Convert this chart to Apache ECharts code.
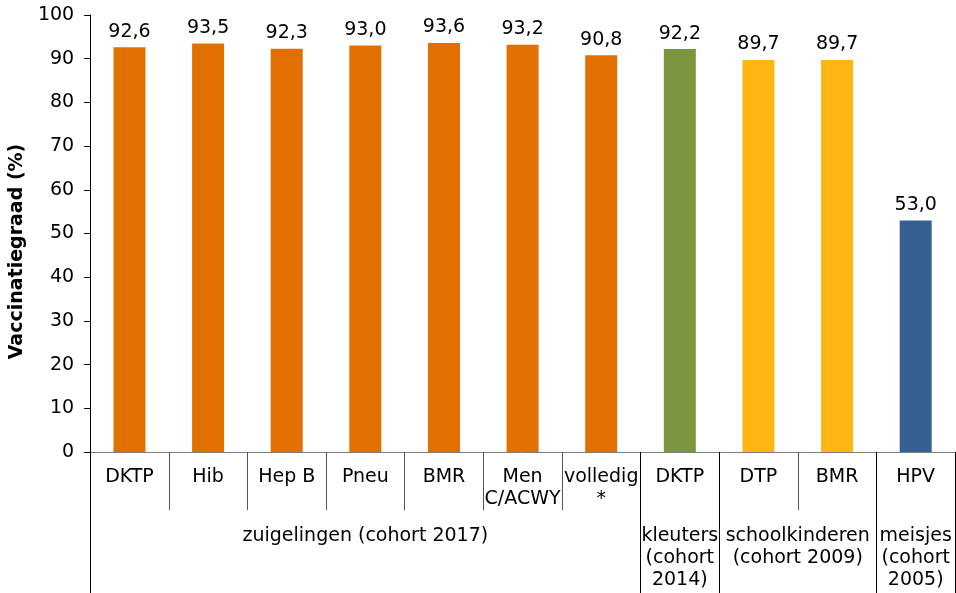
<!DOCTYPE html>
<html>
<head>
<meta charset="utf-8">
<script src="https://cdn.jsdelivr.net/npm/echarts@6/dist/echarts.min.js"></script>
<style>
  html, body { margin: 0; padding: 0; background: #fff; }
  #chart { width: 956px; height: 593px; }
</style>
</head>
<body>
<div id="chart"></div>
<script>
// Vaccination coverage per vaccine
const categories = ['DKTP', 'Hib', 'Hep B', 'Pneu', 'BMR', 'Men\nC/ACWY', 'volledig\n*', 'DKTP', 'DTP', 'BMR', 'HPV']
const values = [92.6, 93.5, 92.3, 93.0, 93.6, 93.2, 90.8, 92.2, 89.7, 89.7, 53.0]
const barColors = ['#E17000', '#E17000', '#E17000', '#E17000', '#E17000', '#E17000', '#E17000',
  '#7A963E', '#FFB612', '#FFB612', '#366092']

// Second level of the x axis: group names and where each group starts (in category units)
const groupNames = ['zuigelingen (cohort 2017)', 'kleuters\n(cohort\n2014)', 'schoolkinderen\n(cohort 2009)', 'meisjes\n(cohort\n2005)']
const groupBounds = [0, 7, 8, 10, 11]

const yTicks = { min: 0, max: 100, interval: 10 }

const FONT = 'DejaVu Sans'
const groupCenters = groupNames.map((_, i) => (groupBounds[i] + groupBounds[i + 1]) / 2)

const chart = echarts.init(document.getElementById('chart'), null, { renderer: 'canvas' })

chart.setOption({
  backgroundColor: '#fff',
  animation: false,
  grid: {
    left: 88,
    right: 1,
    top: 15,
    bottom: 141,
    containLabel: false,
  },
  xAxis: [
    {
      type: 'category',
      data: categories,
      position: 'bottom',
      axisLine: { lineStyle: { color: '#808080', width: 1 } },
      axisTick: {
        show: true,
        alignWithLabel: false,
        length: 58,
        lineStyle: { color: '#555', width: 1 },
      },
      axisLabel: {
        interval: 0,
        margin: 14,
        color: '#000',
        fontFamily: FONT,
        fontSize: 19,
        lineHeight: 22,
      },
    },
    {
      type: 'value',
      position: 'bottom',
      min: 0,
      max: 11,
      axisLine: { show: false },
      splitLine: { show: false },
      axisTick: {
        show: true,
        length: 141,
        customValues: groupBounds,
        lineStyle: { color: '#000', width: 1 },
      },
      axisLabel: {
        show: true,
        margin: 73,
        customValues: groupCenters,
        color: '#000',
        fontFamily: FONT,
        fontSize: 19,
        lineHeight: 22,
        formatter: (value) => {
          const i = groupCenters.findIndex((c) => Math.abs(c - value) < 1e-6)
          return i >= 0 ? groupNames[i] : ''
        },
      },
    },
  ],
  yAxis: {
    type: 'value',
    min: yTicks.min,
    max: yTicks.max,
    interval: yTicks.interval,
    name: 'Vaccinatiegraad (%)',
    nameLocation: 'middle',
    nameGap: 58,
    nameTextStyle: {
      color: '#000',
      fontFamily: FONT,
      fontSize: 19,
      fontWeight: 'bold',
      padding: [0, 36, 0, 0],
    },
    axisLine: { show: true, lineStyle: { color: '#000', width: 1 } },
    axisTick: { show: true, length: 6, lineStyle: { color: '#000' } },
    axisLabel: {
      color: '#000',
      fontFamily: FONT,
      fontSize: 19,
      margin: 16,
    },
    splitLine: { show: false },
  },
  series: [
    {
      type: 'bar',
      xAxisIndex: 0,
      barWidth: 32,
      data: values.map((v, i) => ({ value: v, itemStyle: { color: barColors[i] } })),
      label: {
        show: true,
        position: 'top',
        distance: 6,
        color: '#000',
        fontFamily: FONT,
        fontSize: 19,
        formatter: (p) => p.value.toFixed(1).replace('.', ','),
      },
    },
  ],
})
</script>
</body>
</html>
